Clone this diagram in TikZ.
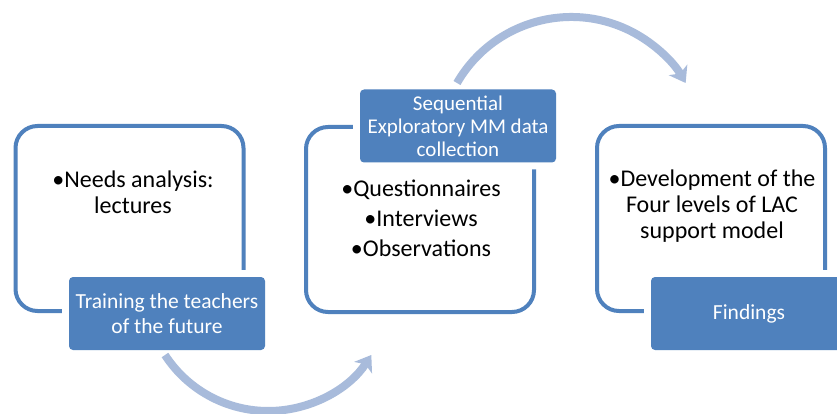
\documentclass[tikz,border=0pt]{standalone}
\usepackage{fontspec}
\setmainfont{Carlito}
\usetikzlibrary{arrows.meta}
\definecolor{accent}{HTML}{4F81BD}
\definecolor{arrowc}{HTML}{A8BBDB}
\begin{document}
\begin{tikzpicture}[x=1pt,y=-1pt,
  frame/.style={draw=accent, line width=4pt, rounded corners=22pt, minimum width=228pt, minimum height=185pt, inner sep=0pt},
  tag/.style={fill=accent, rounded corners=4pt, preaction={draw=white, line width=14pt}, minimum width=196pt, minimum height=73pt, text=white, align=center, font=\fontsize{21.5}{25}\selectfont, inner sep=0pt},
  body/.style={align=center, font=\fontsize{24}{26}\selectfont, inner sep=0pt},
  flow/.style={draw=arrowc, line width=8pt, -{Stealth[width=21pt,length=15pt,inset=4pt]}}]
\clip (0,0) rectangle (837,414);
\fill[white] (0,0) rectangle (837,414);
% frames
\node[frame] (f1) at (129.5,218.5) {};
\node[frame] (f2) at (420,219.5) {};
\node[frame] (f3) at (711,218.5) {};
% body texts
\node[body] (t1) at (133,192) {•Needs analysis:\\lectures};
\node[body, font=\fontsize{24}{30}\selectfont] (t2) at (421,218) {•Questionnaires\\•Interviews\\•Observations};
\node[body] (t3) at (712,206) {•Development of the\\Four levels of LAC\\support model};
% tags
\node[tag] (g1) at (167,313.5) {Training the teachers\\of the future};
\node[tag, font=\fontsize{21}{23}\selectfont] (g2) at (458,126) {Sequential\\Exploratory MM data\\collection};
\node[tag] (g3) at (749,313.5) {Findings};
% arrows
\coordinate (a1) at (165,355);
\coordinate (a2) at (457,83);
\draw[flow] (a1) arc[start angle=147, end angle=33, radius=123];
\draw[flow] (a2) arc[start angle=-150, end angle=-30, radius=132];
\end{tikzpicture}
\end{document}
